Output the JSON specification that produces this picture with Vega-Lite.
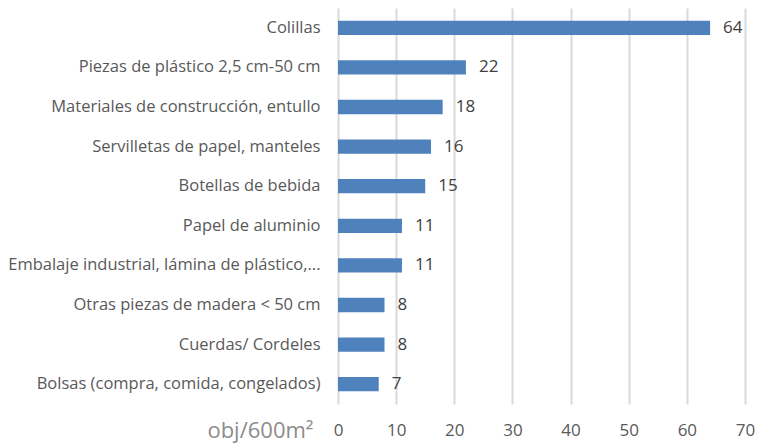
{
  "$schema": "https://vega.github.io/schema/vega-lite/v6.json",
  "width": 407,
  "height": 396,
  "autosize": {"type": "none"},
  "padding": {"left": 338, "top": 8, "right": 12, "bottom": 42},
  "background": "white",
  "config": {"view": {"stroke": null}, "font": "Open Sans"},
  "data": {
    "values": [
      {"categoria": "Colillas", "valor": 64},
      {"categoria": "Piezas de plástico 2,5 cm-50 cm", "valor": 22},
      {"categoria": "Materiales de construcción, entullo", "valor": 18},
      {"categoria": "Servilletas de papel, manteles", "valor": 16},
      {"categoria": "Botellas de bebida", "valor": 15},
      {"categoria": "Papel de aluminio", "valor": 11},
      {"categoria": "Embalaje industrial, lámina de plástico,...", "valor": 11},
      {"categoria": "Otras piezas de madera < 50 cm", "valor": 8},
      {"categoria": "Cuerdas/ Cordeles", "valor": 8},
      {"categoria": "Bolsas (compra, comida, congelados)", "valor": 7}
    ]
  },
  "encoding": {
    "y": {
      "field": "categoria",
      "type": "nominal",
      "sort": null,
      "scale": {"paddingInner": 0.64, "paddingOuter": 0.32},
      "axis": {
        "title": null,
        "domain": false,
        "ticks": false,
        "labelFontSize": 16.5,
        "labelColor": "#595959",
        "labelPadding": 18,
        "labelLimit": 400
      }
    },
    "x": {
      "field": "valor",
      "type": "quantitative",
      "scale": {"domain": [0, 70], "nice": false},
      "axis": {
        "values": [0, 10, 20, 30, 40, 50, 60, 70],
        "title": "obj/600m²",
        "titleFontSize": 22,
        "titleFontWeight": "normal",
        "titleColor": "#8c8c8c",
        "titleAnchor": "start",
        "titleAlign": "right",
        "titleBaseline": "alphabetic",
        "titleX": -25,
        "titleY": 33,
        "domain": false,
        "ticks": false,
        "grid": true,
        "gridColor": "#d9d9d9",
        "gridWidth": 2,
        "labelFontSize": 17,
        "labelColor": "#595959",
        "labelBaseline": "middle",
        "labelPadding": 26,
        "labelFlush": false,
        "labelBound": false,
        "labelOverlap": false
      }
    }
  },
  "layer": [
    {"mark": {"type": "bar", "color": "#4f81bd"}},
    {
      "mark": {"type": "text", "align": "left", "baseline": "middle", "dx": 13, "fontSize": 17, "color": "#404040"},
      "encoding": {"text": {"field": "valor", "type": "quantitative"}}
    }
  ]
}
